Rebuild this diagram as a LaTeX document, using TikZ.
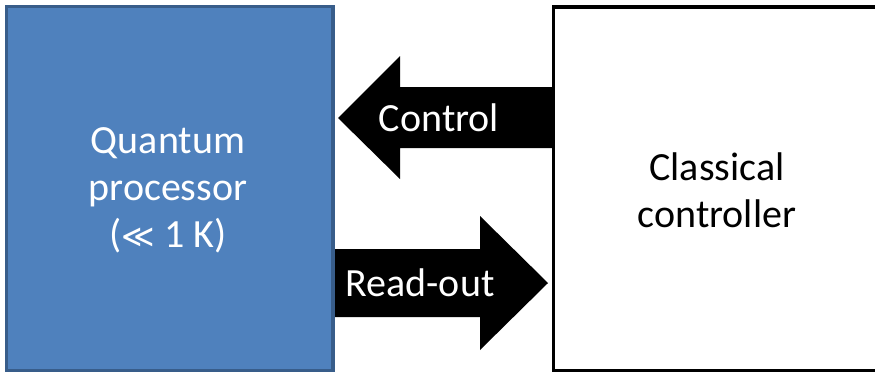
\documentclass[tikz,border=0pt]{standalone}
\usepackage{fontspec}
\setmainfont{Carlito}
\newfontfamily\symfont{DejaVu Sans}
\definecolor{qfill}{HTML}{4F81BD}
\definecolor{qline}{HTML}{385D8A}
\begin{document}
\begin{tikzpicture}[x=1pt,y=-1pt,
  lbl/.style={font=\fontsize{40}{47}\selectfont, align=center, inner sep=0pt},
  blockarrow/.style={fill=black}]
\useasboundingbox (0,0) rectangle (875,372);
% quantum processor box
\draw[qline, fill=qfill, line width=3.5pt] (6.5,6.5) rectangle (333,370.5);
\node[lbl, text=white] (qp) at (168,190) {Quantum\\processor\\({\symfont\fontsize{32}{47}\selectfont ≪} 1 K)};
% classical controller box (runs past the right edge)
\begin{scope}
\clip (0,0) rectangle (875,372);
\draw[black, fill=white, line width=3.5pt] (553.5,7) rectangle (881,370.5);
\end{scope}
\node[lbl] (cc) at (717,190) {Classical\\controller};
% control arrow, pointing left
\fill[blockarrow] (552,87) -- (400,87) -- (400,56) -- (338,118) -- (400,179) -- (400,148) -- (552,148) -- cycle;
\node[lbl, text=white] (ctl) at (439,118) {Control};
% read-out arrow, pointing right
\fill[blockarrow] (335,249) -- (480,249) -- (480,216) -- (548,283) -- (480,350) -- (480,317) -- (335,317) -- cycle;
\node[lbl, text=white] (ro) at (420,283) {Read-out};
\end{tikzpicture}
\end{document}
